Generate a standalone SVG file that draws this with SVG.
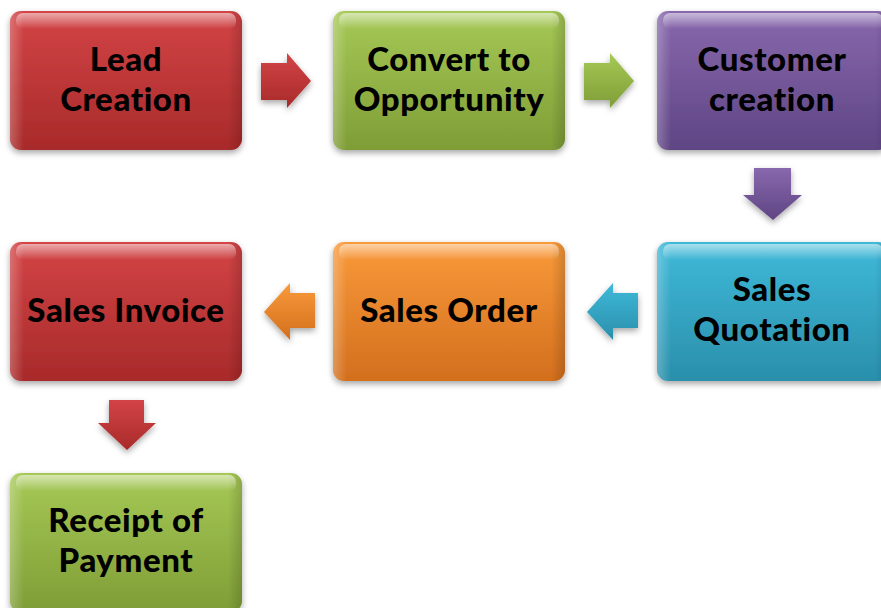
<svg xmlns="http://www.w3.org/2000/svg" width="881" height="608" viewBox="0 0 881 608">
<defs>
<linearGradient id="gRed" x1="0" y1="0" x2="0" y2="1"><stop offset="0" stop-color="#d34446"/><stop offset="1" stop-color="#a82a2a"/></linearGradient>
<linearGradient id="gGreen" x1="0" y1="0" x2="0" y2="1"><stop offset="0" stop-color="#a6c956"/><stop offset="1" stop-color="#7f9d36"/></linearGradient>
<linearGradient id="gPurple" x1="0" y1="0" x2="0" y2="1"><stop offset="0" stop-color="#8868ad"/><stop offset="1" stop-color="#5f4584"/></linearGradient>
<linearGradient id="gBlue" x1="0" y1="0" x2="0" y2="1"><stop offset="0" stop-color="#3fb9d9"/><stop offset="1" stop-color="#2a8fab"/></linearGradient>
<linearGradient id="gOrange" x1="0" y1="0" x2="0" y2="1"><stop offset="0" stop-color="#f99a3a"/><stop offset="1" stop-color="#d36f1e"/></linearGradient>
<linearGradient id="gloss" x1="0" y1="0" x2="0" y2="1"><stop offset="0" stop-color="#fff" stop-opacity="0.55"/><stop offset="1" stop-color="#fff" stop-opacity="0"/></linearGradient>
<linearGradient id="side" x1="0" y1="0" x2="1" y2="0"><stop offset="0" stop-color="#fff" stop-opacity="0.25"/><stop offset="0.06" stop-color="#fff" stop-opacity="0"/><stop offset="0.94" stop-color="#000" stop-opacity="0"/><stop offset="1" stop-color="#000" stop-opacity="0.15"/></linearGradient>
<filter id="sh" x="-10%" y="-10%" width="120%" height="130%"><feDropShadow dx="0" dy="3" stdDeviation="3" flood-color="#000" flood-opacity="0.35"/></filter>
</defs>
<style>
.box{filter:url(#sh)}
.gl{fill:url(#gloss)}
.sd{fill:url(#side)}
.lbl{font-family:Lato,"Open Sans","Liberation Sans",sans-serif;font-weight:900;font-size:33px;letter-spacing:0.6px;fill:#000;text-anchor:middle}
.arr{filter:url(#sh)}
</style>

<g id="lead">
<rect class="box" x="10" y="11" width="232" height="139" rx="11" fill="url(#gRed)"/>
<rect class="sd" x="10" y="11" width="232" height="139" rx="11"/>
<rect class="gl" x="16" y="13" width="220" height="16" rx="7"/>
<text class="lbl" x="126" y="71">Lead</text>
<text class="lbl" x="126" y="111">Creation</text>
</g>

<g id="convert">
<rect class="box" x="333" y="11" width="232" height="139" rx="11" fill="url(#gGreen)"/>
<rect class="sd" x="333" y="11" width="232" height="139" rx="11"/>
<rect class="gl" x="339" y="13" width="220" height="16" rx="7"/>
<text class="lbl" x="449" y="71">Convert to</text>
<text class="lbl" x="449" y="111">Opportunity</text>
</g>

<g id="customer">
<rect class="box" x="657" y="11" width="232" height="139" rx="11" fill="url(#gPurple)"/>
<rect class="sd" x="657" y="11" width="232" height="139" rx="11"/>
<rect class="gl" x="663" y="13" width="220" height="16" rx="7"/>
<text class="lbl" x="772" y="71">Customer</text>
<text class="lbl" x="772" y="111">creation</text>
</g>

<g id="quotation">
<rect class="box" x="657" y="242" width="232" height="139" rx="11" fill="url(#gBlue)"/>
<rect class="sd" x="657" y="242" width="232" height="139" rx="11"/>
<rect class="gl" x="663" y="244" width="220" height="16" rx="7"/>
<text class="lbl" x="772" y="301">Sales</text>
<text class="lbl" x="772" y="341">Quotation</text>
</g>

<g id="order">
<rect class="box" x="333" y="242" width="232" height="139" rx="11" fill="url(#gOrange)"/>
<rect class="sd" x="333" y="242" width="232" height="139" rx="11"/>
<rect class="gl" x="339" y="244" width="220" height="16" rx="7"/>
<text class="lbl" x="449" y="322">Sales Order</text>
</g>

<g id="invoice">
<rect class="box" x="10" y="242" width="232" height="139" rx="11" fill="url(#gRed)"/>
<rect class="sd" x="10" y="242" width="232" height="139" rx="11"/>
<rect class="gl" x="16" y="244" width="220" height="16" rx="7"/>
<text class="lbl" x="126" y="322">Sales Invoice</text>
</g>

<g id="receipt">
<rect class="box" x="10" y="473" width="232" height="139" rx="11" fill="url(#gGreen)"/>
<rect class="sd" x="10" y="473" width="232" height="139" rx="11"/>
<rect class="gl" x="16" y="475" width="220" height="16" rx="7"/>
<text class="lbl" x="126" y="532">Receipt of</text>
<text class="lbl" x="126" y="572">Payment</text>
</g>

<g id="connectors">
<path class="arr" d="M261,63 H287 V53 L311,81 L287,108 V100 H261 Z" fill="url(#gRed)"/>
<path class="arr" d="M584,63 H610 V53 L634,81 L610,108 V100 H584 Z" fill="url(#gGreen)"/>
<path class="arr" d="M754,168 H791 V195 H802 L773,220 L743,195 H754 Z" fill="url(#gPurple)"/>
<path class="arr" d="M638,293 V328 H613 V340 L587,312 L613,283 V293 Z" fill="url(#gBlue)"/>
<path class="arr" d="M315,293 V328 H290 V340 L264,312 L290,283 V293 Z" fill="url(#gOrange)"/>
<path class="arr" d="M109,400 H144 V423 H156 L127,450 L98,423 H109 Z" fill="url(#gRed)"/>
</g>
</svg>
